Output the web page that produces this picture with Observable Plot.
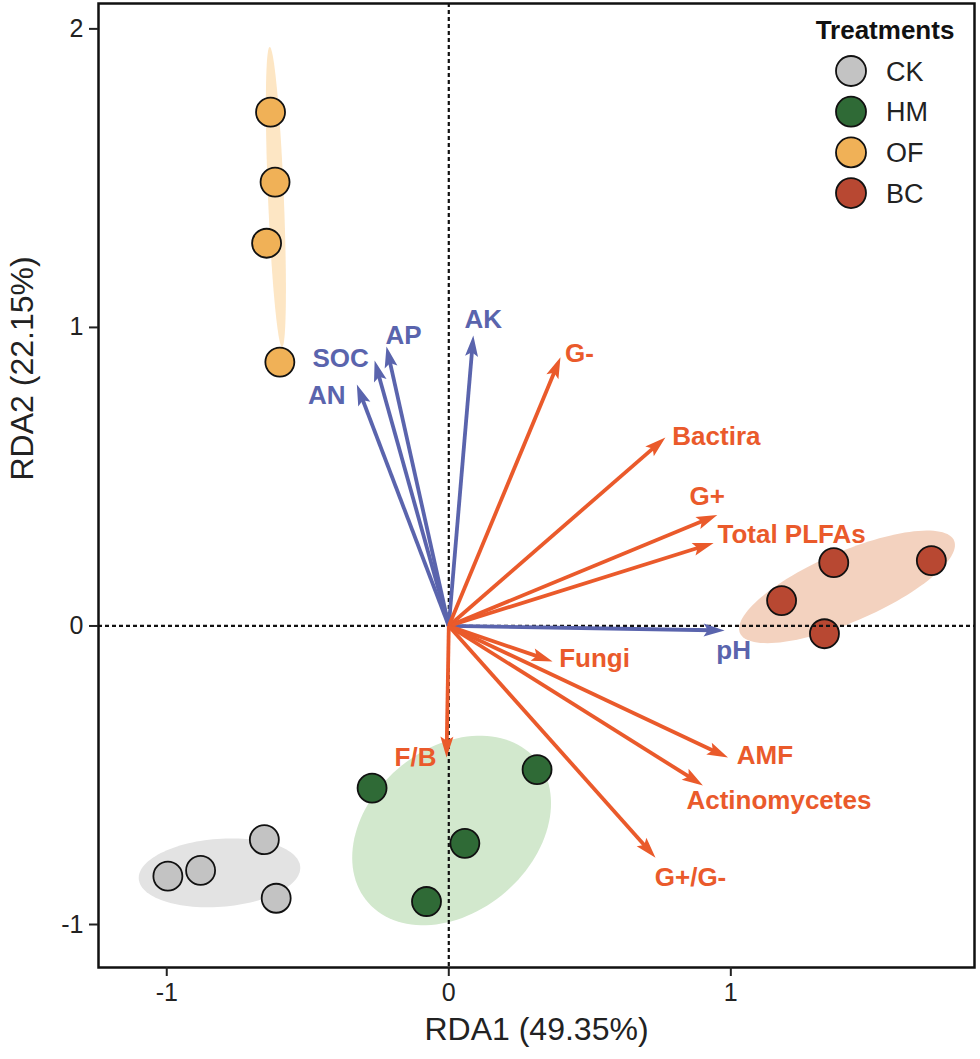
<!DOCTYPE html>
<html><head><meta charset="utf-8">
<script src="https://cdn.jsdelivr.net/npm/d3@7"></script>
<script src="https://cdn.jsdelivr.net/npm/@observablehq/plot@0.6"></script>
<style>
body{margin:0;background:#fff;}
#wrap{position:relative;width:980px;height:1059px;font-family:"Liberation Sans",Arial,sans-serif;}
#legend{position:absolute;left:0;top:0;pointer-events:none;}
</style></head><body><div id="wrap"></div>
<script>
// ---------- data ----------
const treatments = ["CK", "HM", "OF", "BC"];
const treatmentColors = ["#c3c3c3", "#2f6a36", "#f0b157", "#b84832"];
const ellipseColors = ["#e3e3e3", "#d2e8cd", "#fde6c4", "#f3d2bf"];

const sampleGroup = ["CK","CK","CK","CK","HM","HM","HM","HM","OF","OF","OF","OF","BC","BC","BC","BC"];
const sampleRDA1 = [-0.996,-0.880,-0.654,-0.612, -0.272,0.313,0.057,-0.079, -0.632,-0.616,-0.646,-0.599, 1.365,1.711,1.180,1.332];
const sampleRDA2 = [-0.838,-0.819,-0.716,-0.912, -0.543,-0.481,-0.728,-0.923, 1.721,1.487,1.282,0.884, 0.212,0.219,0.085,-0.026];

// confidence ellipses per treatment (centre, semi-axes, rotation in degrees)
const ellipseCx = [-0.813, 0.010, -0.613, 1.412];
const ellipseCy = [-0.827, -0.685, 1.437, 0.131];
const ellipseA = [0.287, 0.383, 0.503, 0.410];
const ellipseB = [0.114, 0.280, 0.028, 0.118];
const ellipseAngle = [4, 35, 92.5, 22];

// environmental factors (blue arrows)
const envNames = ["pH", "AK", "AP", "SOC", "AN"];
const envRDA1 = [0.978, 0.087, -0.221, -0.263, -0.326];
const envRDA2 = [-0.015, 0.973, 0.936, 0.889, 0.809];

// microbial variables (red arrows)
const microNames = ["G-", "Bactira", "G+", "Total PLFAs", "Fungi", "F/B", "AMF", "Actinomycetes", "G+/G-"];
const microRDA1 = [0.396, 0.768, 0.952, 0.939, 0.368, -0.008, 0.990, 0.901, 0.733];
const microRDA2 = [0.900, 0.631, 0.372, 0.278, -0.119, -0.441, -0.441, -0.534, -0.776];

const xTicks = [-1, 0, 1];
const yTicks = [-1, 0, 1, 2];
const xLabel = "RDA1 (49.35%)";
const yLabel = "RDA2 (22.15%)";
const legendTitle = "Treatments";

// ---------- layout / style ----------
const W = 980, H = 1059;
const M = {top: 3, right: 6, bottom: 92, left: 98};
const xDom = [-1.242, 1.864], yDom = [-1.144, 2.085];
const kx = (W - M.left - M.right) / (xDom[1] - xDom[0]);
const ky = (H - M.top - M.bottom) / (yDom[1] - yDom[0]);
const envColor = "#5a64ad", microColor = "#ea5a2b";
const font = "'Liberation Sans', Arial, sans-serif";
// label offsets (px) from arrow tips
const labelOffset = {
  "pH":[9,20], "AK":[10,-16], "AP":[17,-11], "SOC":[-34,-2], "AN":[-30,11],
  "G-":[19,-4], "Bactira":[51,-1], "G+":[-10,-18], "Total PLFAs":[78,-8], "Fungi":[42,-3],
  "F/B":[-31,0], "AMF":[37,-2], "Actinomycetes":[76,15], "G+/G-":[35,20]
};

// ---------- derived tables ----------
const samples = sampleGroup.map((g, i) => ({group: g, x: sampleRDA1[i], y: sampleRDA2[i]}));
const ellipses = [];
treatments.forEach((g, i) => {
  const th = ellipseAngle[i] * Math.PI / 180;
  for (let k = 0; k <= 120; k++) {
    const t = 2 * Math.PI * k / 120;
    const ca = ellipseA[i] * Math.cos(t), sb = ellipseB[i] * Math.sin(t);
    ellipses.push({group: g, x: ellipseCx[i] + ca * Math.cos(th) - sb * Math.sin(th),
                   y: ellipseCy[i] + ca * Math.sin(th) + sb * Math.cos(th)});
  }
});
const arrows = [
  ...envNames.map((n, i) => ({name: n, x: envRDA1[i], y: envRDA2[i], color: envColor})),
  ...microNames.map((n, i) => ({name: n, x: microRDA1[i], y: microRDA2[i], color: microColor}))
];
const headLen = 21, headHalf = 6.5;
const shafts = [], heads = [], labels = [];
arrows.forEach(a => {
  const px = a.x * kx, py = -a.y * ky;
  const L = Math.hypot(px, py), ux = px / L, uy = py / L;
  const bx = px - ux * headLen, by = py - uy * headLen;
  const sx = px - ux * headLen * 0.6, sy = py - uy * headLen * 0.6;
  shafts.push({name: a.name, x2: sx / kx, y2: -sy / ky, color: a.color});
  const pts = [[px, py], [bx - uy * headHalf, by + ux * headHalf], [px - ux * headLen * 0.8, py - uy * headLen * 0.8], [bx + uy * headHalf, by - ux * headHalf], [px, py]];
  pts.forEach(p => heads.push({name: a.name, x: p[0] / kx, y: -p[1] / ky, color: a.color}));
  const o = labelOffset[a.name];
  labels.push({name: a.name, x: (px + o[0]) / kx, y: -(py + o[1]) / ky, color: a.color});
});

const fmt = d => String(d);

const chart = Plot.plot({
  width: W, height: H,
  marginTop: M.top, marginRight: M.right, marginBottom: M.bottom, marginLeft: M.left,
  x: {domain: xDom, ticks: xTicks, label: null},
  y: {domain: yDom, ticks: yTicks, label: null},
  style: {fontFamily: font, background: "white", overflow: "visible"},
  marks: [
    Plot.line(ellipses, {x: "x", y: "y", z: "group", fill: d => ellipseColors[treatments.indexOf(d.group)], stroke: null}),
    Plot.dot(samples, {x: "x", y: "y", r: 14.5, fill: d => treatmentColors[treatments.indexOf(d.group)], stroke: "#111", strokeWidth: 1.8}),
    Plot.ruleX([0], {stroke: "#111", strokeWidth: 2.2, strokeDasharray: "4,3"}),
    Plot.ruleY([0], {stroke: "#111", strokeWidth: 2.2, strokeDasharray: "4,3"}),
    Plot.link(shafts, {x1: 0, y1: 0, x2: "x2", y2: "y2", stroke: "color", strokeWidth: 3.8}),
    Plot.line(heads, {x: "x", y: "y", z: "name", fill: "color", stroke: null}),
    Plot.text(labels, {x: "x", y: "y", text: "name", fill: "color", fontSize: 26, fontWeight: "bold"}),
    Plot.frame({stroke: "#111", strokeWidth: 2.5}),
    Plot.axisX(xTicks, {tickSize: 9, tickPadding: 7, fontSize: 25, strokeWidth: 2, label: null, color: "#222", tickFormat: fmt}),
    Plot.axisY(yTicks, {tickSize: 9, tickPadding: 6, fontSize: 25, strokeWidth: 2, label: null, color: "#222", tickFormat: fmt}),
    Plot.text([xLabel], {frameAnchor: "bottom", dy: 72, fontSize: 32, fill: "#222"}),
    Plot.text([yLabel], {frameAnchor: "left", dx: -76, dy: -5, rotate: -90, fontSize: 32, fill: "#222"})
  ]
});
const wrap = document.getElementById("wrap");
wrap.appendChild(chart);

// ---------- legend ----------
const lg = d3.select(wrap).append("svg").attr("id", "legend").attr("width", W).attr("height", 240)
  .style("font-family", font);
lg.append("text").attr("x", 885).attr("y", 39).attr("text-anchor", "middle")
  .attr("font-size", 26).attr("font-weight", "bold").attr("fill", "#111").text(legendTitle);
treatments.forEach((t, i) => {
  const cy = 71 + i * 40.7;
  lg.append("circle").attr("cx", 851).attr("cy", cy).attr("r", 15)
    .attr("fill", treatmentColors[i]).attr("stroke", "#111").attr("stroke-width", 1.8);
  lg.append("text").attr("x", 886).attr("y", cy + 9.5).attr("font-size", 27).attr("fill", "#222").text(t);
});
</script></body></html>
